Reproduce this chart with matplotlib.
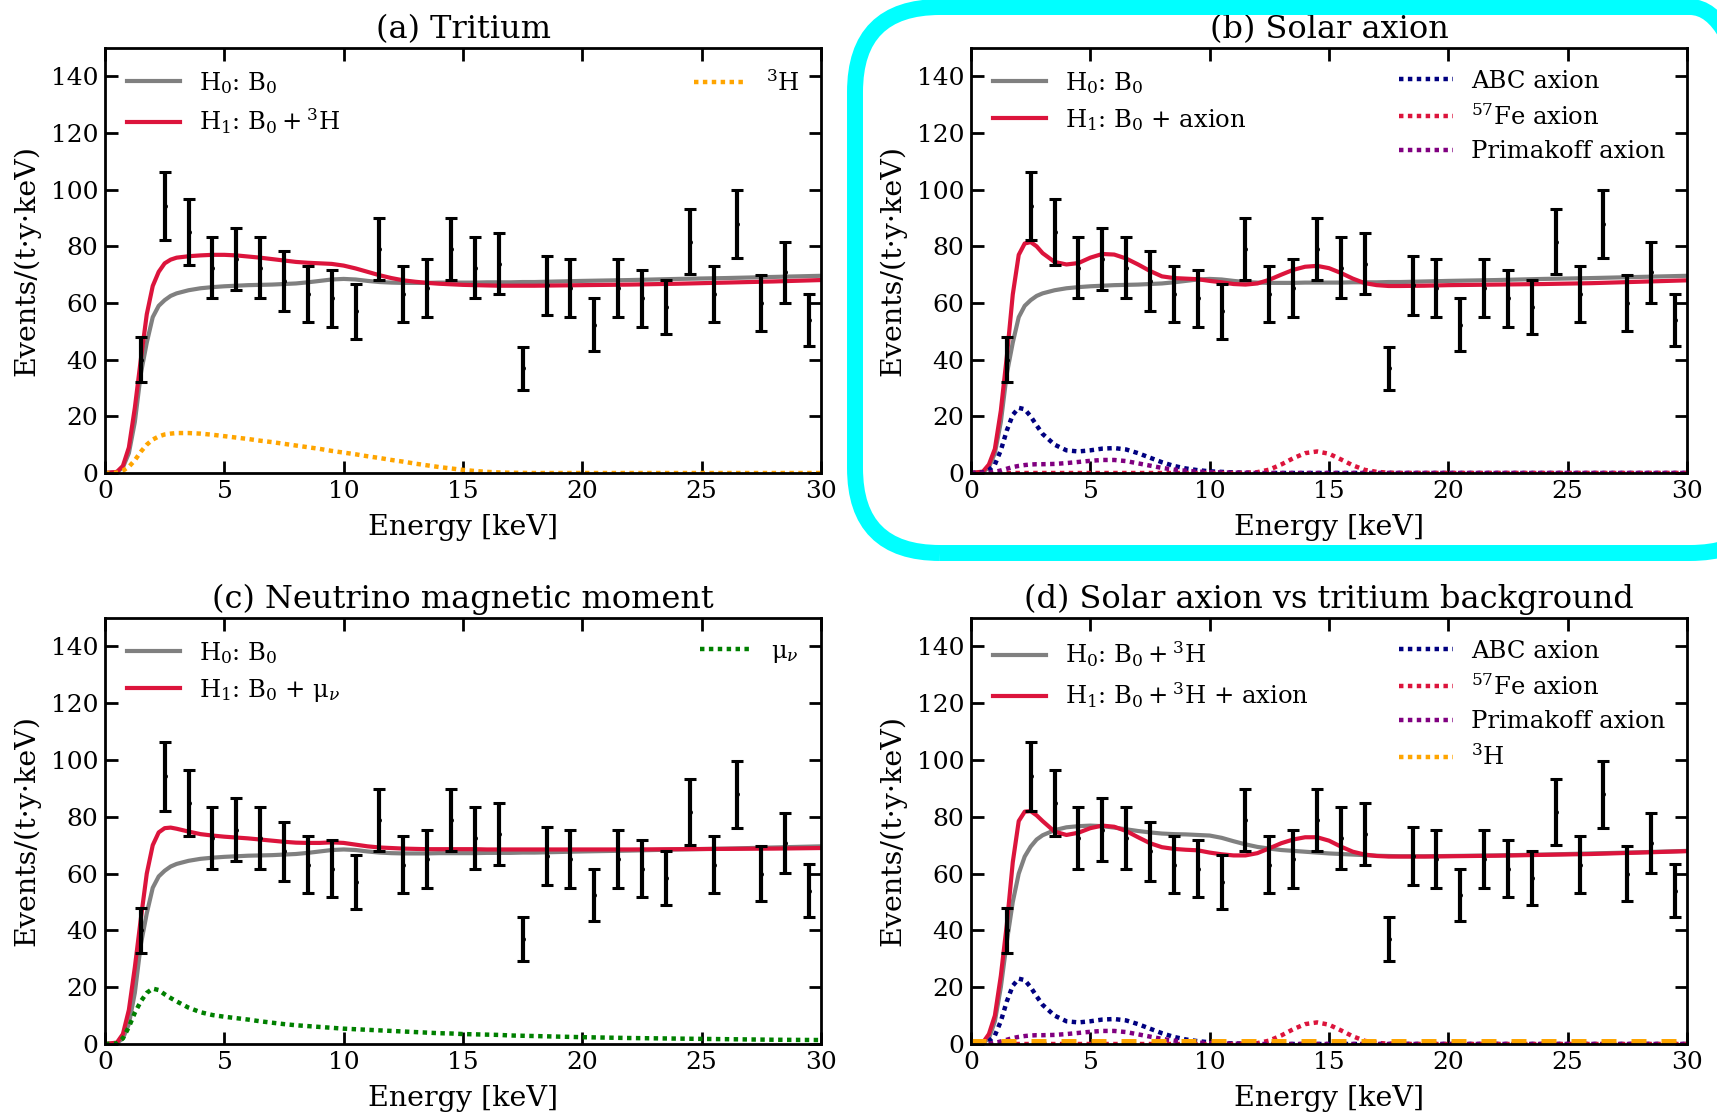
import numpy as np
import matplotlib
matplotlib.use('Agg')
import matplotlib.pyplot as plt
from matplotlib.patches import FancyBboxPatch

plt.rcParams['font.family'] = ['DejaVu Serif']
plt.rcParams['mathtext.fontset'] = 'dejavuserif'

# ---- data --------------------------------------------------------------
# energy grid of the model curves [keV]
E = [0.0, 0.5, 0.75, 1.0, 1.25, 1.5, 1.75,
     2.0, 2.25, 2.5, 2.75, 3.0, 3.5, 4.0,
     4.5, 5.0, 5.5, 6.0, 6.5, 7.0, 7.5,
     8.0, 8.5, 9.0, 9.5, 10.0, 10.5, 11.0,
     11.5, 12.0, 12.5, 13.0, 13.5, 14.0, 14.5,
     15.0, 15.5, 16.0, 16.5, 17.0, 17.5, 18.0,
     19.0, 20.0, 22.0, 24.0, 26.0, 28.0, 30.0]

# background only B0
b0 = [0.0, 0.3, 2.0, 7.0, 18.0, 35.0, 46.0,
      55.0, 59.0, 61.0, 62.5, 63.4, 64.5, 65.2,
      65.6, 65.9, 66.1, 66.3, 66.4, 66.5, 66.7,
      66.9, 67.3, 67.8, 68.3, 68.5, 68.3, 67.8,
      67.4, 67.2, 67.1, 67.1, 67.1, 67.2, 67.2,
      67.2, 67.2, 67.3, 67.3, 67.3, 67.4, 67.4,
      67.6, 67.8, 68.1, 68.5, 68.8, 69.2, 69.6]

# (a) B0 + tritium
h1_trit = [0.0, 0.4, 2.5, 9.0, 23.0, 40.0, 56.0,
           66.0, 71.0, 74.0, 75.3, 76.0, 76.5, 76.8,
           77.0, 77.0, 76.8, 76.4, 76.0, 75.5, 75.0,
           74.5, 74.2, 74.0, 73.8, 73.2, 72.2, 71.0,
           69.8, 68.8, 68.0, 67.5, 67.1, 66.8, 66.6,
           66.4, 66.3, 66.2, 66.1, 66.1, 66.1, 66.1,
           66.2, 66.3, 66.5, 66.8, 67.2, 67.6, 68.1]
tritium = [0.0, 0.1, 0.8, 2.2, 4.5, 7.5, 10.0,
           11.8, 12.9, 13.6, 13.9, 14.1, 14.1, 13.9,
           13.5, 13.0, 12.5, 12.0, 11.4, 10.9, 10.3,
           9.7, 9.1, 8.5, 7.8, 7.2, 6.6, 5.9,
           5.3, 4.6, 4.0, 3.3, 2.7, 2.1, 1.6,
           1.1, 0.7, 0.4, 0.2, 0.1, 0.05, 0.0,
           0.0, 0.0, 0.0, 0.0, 0.0, 0.0, 0.0]

# (b) B0 + axion and the axion components
h1_axion = [0.0, 0.5, 3.0, 8.5, 22.0, 41.0, 63.0,
            77.0, 81.0, 81.5, 80.0, 77.6, 74.5, 73.6,
            74.1, 76.0, 77.3, 77.1, 75.7, 73.6, 71.3,
            69.4, 68.8, 68.6, 68.4, 67.8, 67.3, 66.7,
            66.5, 66.9, 68.2, 70.0, 71.7, 72.8, 73.1,
            72.3, 70.6, 68.6, 67.0, 66.3, 66.0, 66.0,
            66.1, 66.3, 66.5, 66.7, 67.0, 67.5, 68.0]
abc = [0.0, 0.2, 1.0, 3.0, 8.0, 15.0, 20.5,
       23.0, 22.5, 20.0, 16.8, 13.8, 10.0, 8.0,
       7.6, 8.0, 8.6, 8.8, 8.3, 7.0, 5.4,
       3.8, 2.5, 1.6, 1.0, 0.6, 0.4, 0.2,
       0.1, 0.05, 0.0, 0.0, 0.0, 0.0, 0.0,
       0.0, 0.0, 0.0, 0.0, 0.0, 0.0, 0.0,
       0.0, 0.0, 0.0, 0.0, 0.0, 0.0, 0.0]
fe57 = [0.0, 0.0, 0.0, 0.0, 0.0, 0.0, 0.0,
        0.0, 0.0, 0.0, 0.0, 0.0, 0.0, 0.0,
        0.0, 0.0, 0.0, 0.0, 0.0, 0.0, 0.0,
        0.0, 0.0, 0.0, 0.0, 0.0, 0.0, 0.0,
        0.05, 0.3, 1.2, 3.0, 5.2, 7.0, 7.6,
        6.8, 4.8, 2.7, 1.1, 0.4, 0.1, 0.0,
        0.0, 0.0, 0.0, 0.0, 0.0, 0.0, 0.0]
primakoff = [0.0, 0.0, 0.1, 0.4, 0.9, 1.5, 2.1,
             2.5, 2.8, 3.0, 3.1, 3.1, 3.2, 3.5,
             3.9, 4.3, 4.6, 4.6, 4.2, 3.4, 2.6,
             1.8, 1.2, 0.8, 0.5, 0.3, 0.2, 0.1,
             0.05, 0.0, 0.0, 0.0, 0.0, 0.0, 0.0,
             0.0, 0.0, 0.0, 0.0, 0.0, 0.0, 0.0,
             0.0, 0.0, 0.0, 0.0, 0.0, 0.0, 0.0]

# (c) B0 + neutrino magnetic moment
h1_mu = [0.0, 0.5, 3.5, 12.0, 27.0, 44.0, 60.0,
         70.0, 74.5, 76.0, 76.2, 75.8, 74.8, 73.9,
         73.4, 73.0, 72.7, 72.4, 72.0, 71.6, 71.2,
         70.9, 70.8, 70.8, 71.0, 70.8, 70.2, 69.6,
         69.2, 69.0, 68.8, 68.7, 68.6, 68.6, 68.6,
         68.6, 68.6, 68.5, 68.5, 68.5, 68.5, 68.5,
         68.5, 68.5, 68.5, 68.6, 68.7, 68.8, 69.0]
mu_nu = [0.0, 0.2, 2.0, 6.0, 11.0, 15.0, 18.0,
         19.5, 19.0, 17.5, 16.2, 15.0, 12.8, 11.2,
         10.2, 9.6, 9.1, 8.6, 8.0, 7.5, 7.0,
         6.6, 6.3, 6.0, 5.7, 5.4, 5.2, 5.0,
         4.8, 4.6, 4.4, 4.2, 4.0, 3.8, 3.7,
         3.5, 3.4, 3.3, 3.2, 3.0, 2.9, 2.8,
         2.6, 2.4, 2.1, 1.9, 1.7, 1.5, 1.4]

# (d) tritium included in the background
h0_trit = [0.0, 0.3, 2.0, 8.0, 20.0, 36.0, 50.0,
           60.0, 66.0, 69.5, 72.0, 73.5, 75.3, 76.3,
           76.7, 76.9, 76.7, 76.2, 75.6, 75.0, 74.5,
           74.1, 73.9, 73.8, 73.6, 73.4, 72.6, 71.4,
           70.3, 69.4, 68.8, 68.3, 68.0, 67.7, 67.4,
           67.1, 66.9, 66.7, 66.5, 66.3, 66.2, 66.1,
           66.1, 66.2, 66.4, 66.7, 67.1, 67.5, 68.0]
h1_trit_axion = [0.0, 0.5, 3.5, 10.0, 24.0, 42.0, 64.0,
                 78.5, 81.8, 82.0, 80.5, 78.5, 74.8, 73.6,
                 74.4, 76.0, 76.9, 76.5, 75.0, 72.8, 70.7,
                 69.3, 68.7, 68.4, 68.2, 67.4, 66.8, 66.4,
                 66.4, 67.2, 68.9, 70.7, 72.0, 72.8, 72.8,
                 71.6, 69.5, 67.7, 66.7, 66.2, 66.0, 66.0,
                 66.0, 66.1, 66.3, 66.6, 66.9, 67.4, 67.9]
E_trit_d = [0.0, 30.0]
tritium_d = [1.0, 1.0]

# measured spectrum (1 keV bins)
bins = [1.5, 2.5, 3.5, 4.5, 5.5, 6.5, 7.5, 8.5, 9.5, 10.5,
        11.5, 12.5, 13.5, 14.5, 15.5, 16.5, 17.5, 18.5, 19.5, 20.5,
        21.5, 22.5, 23.5, 24.5, 25.5, 26.5, 27.5, 28.5, 29.5]
counts = [40.0, 94.2, 85.0, 72.5, 75.5, 72.5, 67.8, 63.2, 61.7, 57.0,
          79.0, 63.2, 65.2, 79.0, 72.5, 73.9, 37.0, 66.2, 65.2, 52.4,
          65.2, 61.7, 58.5, 81.7, 63.2, 87.9, 60.0, 70.8, 54.0]
errors = [8.0, 12.0, 11.6, 10.8, 11.0, 10.8, 10.5, 10.0, 10.0, 9.6,
          10.9, 10.0, 10.2, 10.9, 10.8, 10.9, 7.6, 10.3, 10.2, 9.2,
          10.2, 10.0, 9.6, 11.5, 10.0, 11.9, 9.8, 10.7, 9.3]

# ---- figure ------------------------------------------------------------
W, H = 1717, 1116
fig = plt.figure(figsize=(W / 100, H / 100), dpi=100, facecolor='white')

DOT = (0, (1, 1))
LW = 3.0


def make_ax(l, t, r, b):
    return fig.add_axes([l / W, 1 - b / H, (r - l) / W, (b - t) / H])


def style(ax, title):
    ax.set_xlim(0, 30)
    ax.set_ylim(0, 150)
    ax.set_xticks(range(0, 31, 5))
    ax.set_yticks(range(0, 141, 20))
    ax.tick_params(direction='in', top=True, right=True, length=9,
                   width=2, labelsize=18, pad=5)
    for s in ax.spines.values():
        s.set_linewidth(2)
    ax.set_xlabel('Energy [keV]', fontsize=20.5, labelpad=8)
    ax.set_ylabel('Events/(t·y·keV)', fontsize=20.5, labelpad=7)
    ax.set_title(title, fontsize=23, pad=7)


def data(ax):
    ax.errorbar(bins, counts, yerr=errors, fmt='o', color='k', ms=2.5,
                elinewidth=3, capsize=4, capthick=2.2, zorder=5)


def legends(ax, left, right):
    kw = dict(frameon=False, fontsize=17.5, handlelength=2.2,
              handletextpad=0.75, labelspacing=0.45)
    l1 = ax.legend(handles=left, loc='upper left', **kw)
    ax.add_artist(l1)
    ax.legend(handles=right, loc='upper right', **kw)


# (a) Tritium
ax = make_ax(105, 48, 821, 473)
g, = ax.plot(E, b0, color='gray', lw=LW, label=r'H$_0$: B$_0$')
r, = ax.plot(E, h1_trit, color='crimson', lw=LW, label=r'H$_1$: B$_0+^3$H')
t, = ax.plot(E, tritium, color='orange', lw=3.2, ls=DOT, label=r'$^3$H')
data(ax)
style(ax, '(a) Tritium')
legends(ax, [g, r], [t])

# (b) Solar axion
ax = make_ax(971, 48, 1687, 473)
g, = ax.plot(E, b0, color='gray', lw=LW, label=r'H$_0$: B$_0$')
r, = ax.plot(E, h1_axion, color='crimson', lw=LW, label=r'H$_1$: B$_0$ + axion')
a1, = ax.plot(E, abc, color='navy', lw=3.2, ls=DOT, label='ABC axion')
a2, = ax.plot(E, fe57, color='crimson', lw=3.2, ls=DOT, label=r'$^{57}$Fe axion')
a3, = ax.plot(E, primakoff, color='purple', lw=3.2, ls=DOT, label='Primakoff axion')
data(ax)
style(ax, '(b) Solar axion')
legends(ax, [g, r], [a1, a2, a3])

# (c) Neutrino magnetic moment
ax = make_ax(105, 618, 821, 1044)
g, = ax.plot(E, b0, color='gray', lw=LW, label=r'H$_0$: B$_0$')
r, = ax.plot(E, h1_mu, color='crimson', lw=LW, label=r'H$_1$: B$_0$ + μ$_\nu$')
m, = ax.plot(E, mu_nu, color='green', lw=3.2, ls=DOT, label=r'μ$_\nu$')
data(ax)
style(ax, '(c) Neutrino magnetic moment')
legends(ax, [g, r], [m])

# (d) Solar axion vs tritium background
ax = make_ax(971, 618, 1687, 1044)
g, = ax.plot(E, h0_trit, color='gray', lw=LW, label=r'H$_0$: B$_0+^3$H')
r, = ax.plot(E, h1_trit_axion, color='crimson', lw=LW,
             label=r'H$_1$: B$_0+^3$H + axion')
a1, = ax.plot(E, abc, color='navy', lw=3.2, ls=DOT, label='ABC axion')
a2, = ax.plot(E, fe57, color='crimson', lw=3.2, ls=DOT, label=r'$^{57}$Fe axion')
a3, = ax.plot(E, primakoff, color='purple', lw=3.2, ls=DOT, label='Primakoff axion')
t, = ax.plot(E_trit_d, tritium_d, color='orange', lw=3.6, ls=(0, (3, 3)))
th, = ax.plot([], [], color='orange', lw=3.2, ls=DOT, label=r'$^3$H')
data(ax)
style(ax, '(d) Solar axion vs tritium background')
legends(ax, [g, r], [a1, a2, a3, th])

# cyan highlight around panel (b), in pixel coordinates
box = FancyBboxPatch((855, H - 553), 920, 546,
                     boxstyle='round,pad=0,rounding_size=85',
                     transform=None, fill=False, edgecolor='#00FFFF',
                     lw=11.5, zorder=10, clip_on=False)
fig.patches.append(box)

fig.savefig('out.png', dpi=100, facecolor='white')
print('Done')
